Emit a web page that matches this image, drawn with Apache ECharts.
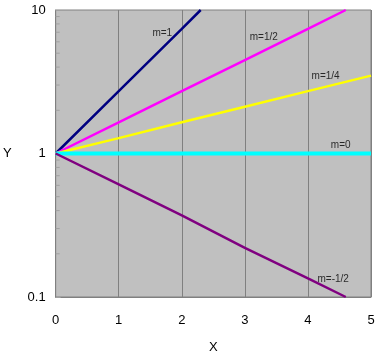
<!DOCTYPE html>
<html><head><meta charset="utf-8">
<script src="https://cdn.jsdelivr.net/npm/echarts@6/dist/echarts.min.js"></script>
<style>html,body{margin:0;padding:0;background:#fff}#c{width:378px;height:359px}</style>
</head><body><div id="c"></div>
<script>
var xTicks = [0, 1, 2, 3, 4, 5];
var yTicks = [0.1, 1, 10];
var yMinorTicks = [0.2, 0.3, 0.4, 0.5, 0.6, 0.7, 0.8, 0.9, 2, 3, 4, 5, 6, 7, 8, 9];
var seriesNames = ['m=1', 'm=1/2', 'm=1/4', 'm=0', 'm=-1/2'];
var m1 = [[0, 1], [1, 2.72], [2, 7.39], [2.3, 10]];
var mHalf = [[0, 1], [1, 1.65], [2, 2.72], [3, 4.48], [4, 7.39], [4.6, 10]];
var mQuarter = [[0, 1], [1, 1.28], [2, 1.65], [3, 2.12], [4, 2.72], [5, 3.49]];
var m0 = [[0, 1], [5, 1]];
var mNegHalf = [[0, 1], [1, 0.61], [2, 0.37], [3, 0.22], [4, 0.135], [4.6, 0.1]];
var labelPos = [[1.69, 6.9], [3.3, 6.5], [4.28, 3.45], [4.52, 1.14], [4.4, 0.133]];

var colors = ['#000080', '#FF00FF', '#FFFF00', '#00FFFF', '#800080'];
var widths = [2.5, 2.5, 2.5, 4, 2.5];
var datasets = [m1, mHalf, mQuarter, m0, mNegHalf];
var font = 'Liberation Sans, Arial, sans-serif';

var series = datasets.map(function (d, i) {
  return {
    name: seriesNames[i], type: 'line', data: d, symbol: 'none',
    lineStyle: { color: colors[i], width: widths[i] }, z: 3, clip: true
  };
});
series.push({
  type: 'scatter', symbolSize: 0, z: 5,
  data: labelPos.map(function (p, i) { return { value: p, name: seriesNames[i] }; }),
  label: { show: true, position: 'inside', formatter: '{b}', color: '#000', fontSize: 10, fontFamily: font }
});
series.push({
  type: 'custom', z: 2, silent: true,
  data: yMinorTicks.map(function (v) { return [0, v]; }),
  renderItem: function (params, api) {
    var p = api.coord([api.value(0), api.value(1)]);
    return { type: 'line', shape: { x1: p[0], y1: p[1], x2: p[0] + 4, y2: p[1] },
      style: { stroke: '#a0a0a0', lineWidth: 1 } };
  }
});

var chart = echarts.init(document.getElementById('c'));
chart.setOption({
  animation: false,
  grid: { left: 55, right: 7, top: 10, bottom: 58, show: true, backgroundColor: '#C0C0C0', borderColor: '#808080', borderWidth: 1 },
  xAxis: {
    type: 'value', min: xTicks[0], max: xTicks[xTicks.length - 1], interval: 1,
    name: 'X', nameLocation: 'middle', nameGap: 44,
    nameTextStyle: { fontSize: 13, fontFamily: font, color: '#000' },
    axisLine: { lineStyle: { color: '#808080' } },
    axisTick: { show: false },
    axisLabel: { fontSize: 13, fontFamily: font, color: '#000', margin: 17 },
    splitLine: { show: true, lineStyle: { color: '#808080', width: 1 } }
  },
  yAxis: {
    type: 'log', logBase: 10, min: yTicks[0], max: yTicks[yTicks.length - 1],
    name: 'Y', nameLocation: 'middle', nameGap: 44, nameRotate: 0,
    nameTextStyle: { fontSize: 13, fontFamily: font, color: '#000' },
    axisLine: { lineStyle: { color: '#808080' } },
    axisTick: { show: true, inside: true, length: 5, lineStyle: { color: '#a0a0a0' } },
    axisLabel: { fontSize: 13, fontFamily: font, color: '#000', margin: 10 },
    splitLine: { show: false }
  },
  series: series
});
</script></body></html>
